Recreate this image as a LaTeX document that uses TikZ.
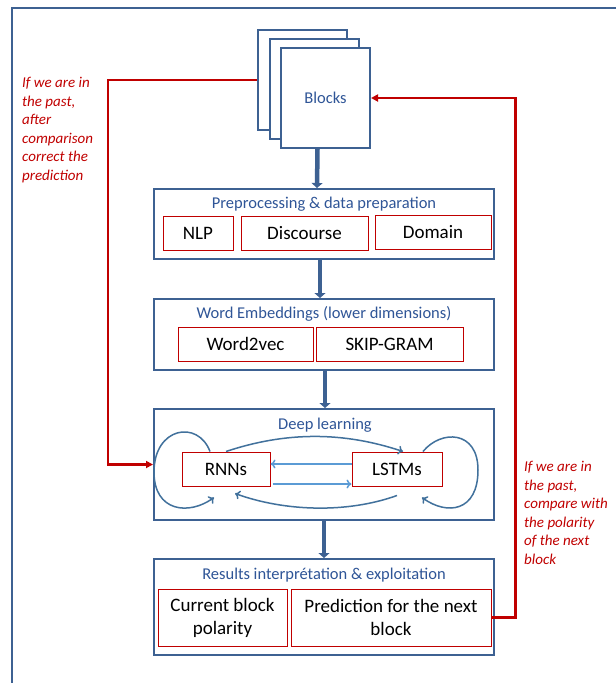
\documentclass[tikz,border=0pt]{standalone}
\usepackage{fontspec}
\setmainfont{Carlito}
\usetikzlibrary{arrows.meta}
\definecolor{boxblue}{RGB}{61,97,146}
\definecolor{titleblue}{RGB}{47,85,151}
\definecolor{fbred}{RGB}{192,0,0}
\definecolor{loopblue}{RGB}{65,113,156}
\definecolor{pairblue}{RGB}{91,155,213}

\begin{document}
\begin{tikzpicture}[x=1pt,y=-1pt,%
          bigbox/.style={draw=boxblue,line width=2pt,fill=white,minimum width=340pt},
          sheet/.style={draw=boxblue,line width=2pt,fill=white,minimum width=89pt,minimum height=100pt},
          subbox/.style={draw=fbred,line width=1pt,minimum height=34pt,inner sep=0pt,
            font=\fontsize{19}{23}\selectfont,align=center},
          boxtitle/.style={text=titleblue,font=\fontsize{16.5}{20}\selectfont},
          flow/.style={draw=boxblue,line width=4.5pt,-{Triangle[length=5pt,width=11pt]}},
          fb/.style={draw=fbred,line width=2.2pt,-{Triangle[length=7pt,width=7pt]}},
          note/.style={text=fbred,font=\fontsize{15}{18.6}\selectfont\itshape,align=left,
            anchor=north west,inner sep=0pt},
          pairline/.style={draw=pairblue,line width=1.5pt,-{To[length=5pt,width=9pt]}},
          loopline/.style={draw=loopblue,line width=1.5pt,-{To[length=5pt,width=9pt]}}]
          \useasboundingbox (0,0) rectangle (616,683);
          \draw[draw=boxblue,line width=2.5pt] (12,8) rectangle (640,710);

          \node[sheet] (back) at (302,80) {};
          \node[sheet] (middle) at (314,89) {};
          \node[sheet,boxtitle] (blocks) at (325.5,98) {Blocks};

          \node[bigbox,minimum height=70pt] (prep) at (324,224) {};
          \node[boxtitle] (preptitle) at (324,204) {Preprocessing \& data preparation};
          \node[subbox,minimum width=70pt] (nlp) at (198,233) {NLP};
          \node[subbox,minimum width=127pt] (discourse) at (304.5,233) {Discourse};
          \node[subbox,minimum width=116pt] (domain) at (433,232) {Domain};

          \node[bigbox,minimum height=71pt] (emb) at (324,334.5) {};
          \node[boxtitle] (embtitle) at (324,314) {Word Embeddings (lower dimensions)};
          \node[subbox,minimum width=135pt] (wordvec) at (245.5,344) {Word2vec};
          \node[subbox,minimum width=147pt] (skipgram) at (389.5,344) {SKIP-GRAM};

          \node[bigbox,minimum height=111pt] (deep) at (324,464.5) {};
          \node[boxtitle] (deeptitle) at (325,425) {Deep learning};
          \node[subbox,minimum width=88pt] (rnn) at (226,469) {RNNs};
          \node[subbox,minimum width=90pt] (lstm) at (397,469) {LSTMs};

          \node[bigbox,minimum height=96pt] (res) at (324,607) {};
          \node[boxtitle] (restitle) at (324,575) {Results interprétation \& exploitation};
          \node[subbox,minimum width=129pt,minimum height=57pt] (current) at (222.5,617.5) {Current block\\polarity};
          \node[subbox,minimum width=200pt,minimum height=57pt] (pred) at (391,617.5) {Prediction for the next\\block};

          \node[note] (leftnote) at (22,77) {If we are in\\the past,\\after\\comparison\\correct the\\prediction};
          \node[note] (rightnote) at (524,461) {If we are in\\the past,\\compare with\\the polarity\\of the next\\block};

          \draw[flow] ([xshift=-8pt]blocks.south) -- ([xshift=-7pt]prep.north);
          \draw[flow] ([xshift=-4pt]prep.south) -- ([xshift=-4pt]emb.north);
          \draw[flow] ([xshift=1pt]emb.south) -- ([xshift=1pt]deep.north);
          \draw[flow] (deep.south) -- (res.north);

          \draw[fb] (back.west) -| ([xshift=-45pt]deep.west) -- (deep.west);
          \draw[fb] (pred.east) -- ++(24,0) |- (blocks.east);

          \draw[pairline] ([yshift=5pt]lstm.west) -- ([yshift=5pt]rnn.east);
          \draw[pairline] ([shift={(2pt,-15pt)}]rnn.east) -- ([yshift=-15pt]lstm.west);
          \draw[loopline] (rnn.north) .. controls +(60,-20) and +(-60,-20) .. ([xshift=6pt]lstm.north);
          \draw[loopline] ([yshift=-9pt]lstm.south) .. controls +(-50,18) and +(50,18) .. ([shift={(9pt,-7pt)}]rnn.south);
          \draw[loopline] ([xshift=-16pt]rnn.north) .. controls +(-12,-32) and +(0,-45) .. (154,472)
            .. controls +(0,40) and +(-25,18) .. ([shift={(-12pt,-11pt)}]rnn.south);
          \draw[loopline] ([xshift=26pt]lstm.north) .. controls +(18,-22) and +(0,-40) .. (478,470)
            .. controls +(0,42) and +(25,18) .. ([shift={(25pt,-11pt)}]lstm.south);
        \end{tikzpicture}
\end{document}
